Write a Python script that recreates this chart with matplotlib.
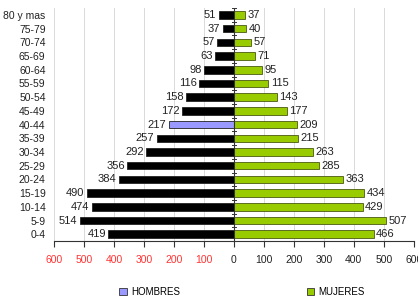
import numpy as np
import matplotlib.pyplot as plt
from matplotlib.patches import Patch

ages = ['0-4', '5-9', '10-14', '15-19', '20-24', '25-29', '30-34', '35-39', '40-44',
        '45-49', '50-54', '55-59', '60-64', '65-69', '70-74', '75-79', '80 y mas']
hombres = [419, 514, 474, 490, 384, 356, 292, 257, 217, 172, 158, 116, 98, 63, 57, 37, 51]
mujeres = [466, 507, 429, 434, 363, 285, 263, 215, 209, 177, 143, 115, 95, 71, 57, 40, 37]
xticks = [-600, -500, -400, -300, -200, -100, 0, 100, 200, 300, 400, 500, 600]

plt.rcParams['font.family'] = ['Liberation Sans', 'DejaVu Sans']

fig = plt.figure(figsize=(4.18, 2.98), dpi=100)
ax = fig.add_axes([0.129, 0.191, 0.861, 0.782])

y = np.arange(len(ages))
h = 0.55
men_col = ['#9999FF' if a == '40-44' else 'black' for a in ages]
ax.barh(y, -np.array(hombres), height=h, color=men_col, edgecolor='#222222', lw=0.6, zorder=3)
ax.barh(y, mujeres, height=h, color='#99CC00', edgecolor='#4a5a10', lw=0.6, zorder=3)

for yi, m, w in zip(y, hombres, mujeres):
    ax.text(-m - 8, yi, str(m), ha='right', va='center', fontsize=8, color='#222222')
    ax.text(w + 8, yi, str(w), ha='left', va='center', fontsize=8, color='#222222')

ax.set_xlim(-600, 600)
ax.set_ylim(-0.5, len(ages) - 0.5)
ax.set_xticks(xticks)
ax.set_xticklabels([str(abs(t)) for t in xticks], fontsize=7.5)
for lab, t in zip(ax.get_xticklabels(), xticks):
    if t < 0:
        lab.set_color('#FF3333')
    else:
        lab.set_color('#222222')
ax.tick_params(axis='x', length=4, width=0.8, color='#333333', pad=6)
ax.set_yticks(y)
ax.set_yticklabels(ages, fontsize=7.5, color='#222222')
ax.tick_params(axis='y', length=0, pad=6)

ax.grid(axis='x', color='#d9d9d9', lw=0.7, zorder=0)
for s in ['top', 'right', 'left']:
    ax.spines[s].set_visible(False)
ax.spines['bottom'].set_color('#333333')

# centre axis with small ticks between rows
ax.axvline(0, color='#333333', lw=0.8, zorder=4)
for b in np.arange(-0.5, len(ages), 1.0):
    ax.plot([-6, 6], [b, b], color='#333333', lw=0.7, zorder=4, clip_on=False)

handles = [Patch(facecolor='#9999FF', edgecolor='#333333', lw=0.6),
           Patch(facecolor='#99CC00', edgecolor='#333333', lw=0.6)]
fig.legend(handles, ['HOMBRES', 'MUJERES'], loc='center', bbox_to_anchor=(0.579, 0.02),
           ncol=2, frameon=False, fontsize=7, handlelength=0.8, handleheight=0.8,
           handletextpad=0.4, columnspacing=13)

fig.savefig('out.png', dpi=100)
